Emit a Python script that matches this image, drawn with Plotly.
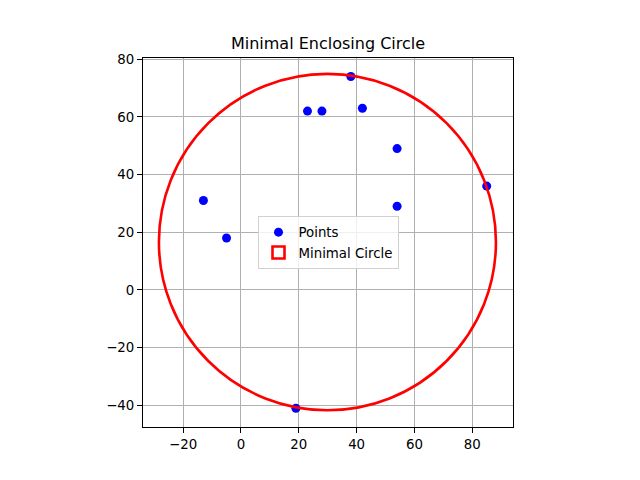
import plotly.graph_objects as go

# Data
point_x = [-13, -5, 23, 28, 38, 42, 54, 54, 85, 19]
point_y = [31, 18, 62, 62, 74, 63, 49, 29, 36, -41]
circle_center = (29.9, 16.6)
circle_radius = 58.3

x_range = [-33.9, 94.1]
y_range = [-47.5, 80.4]
x_ticks = [-20, 0, 20, 40, 60, 80]
y_ticks = [-40, -20, 0, 20, 40, 60, 80]

fig = go.Figure()
fig.add_trace(go.Scatter(
    x=point_x, y=point_y, mode="markers", name="Points",
    marker=dict(color="blue", size=9, line=dict(width=0)),
))
fig.add_shape(
    type="circle", xref="x", yref="y",
    x0=circle_center[0] - circle_radius, x1=circle_center[0] + circle_radius,
    y0=circle_center[1] - circle_radius, y1=circle_center[1] + circle_radius,
    line=dict(color="red", width=2.6), fillcolor="rgba(0,0,0,0)",
    showlegend=False, layer="above",
)
# legend proxy (rectangle patch icon), placed outside the visible range so it is clipped
fig.add_shape(
    type="rect", xref="x", yref="y",
    x0=x_range[1] + 100, x1=x_range[1] + 101, y0=y_range[1] + 100, y1=y_range[1] + 101,
    line=dict(color="red", width=2.6), fillcolor="rgba(0,0,0,0)",
    name="Minimal Circle", showlegend=True,
)

font = "DejaVu Sans"
axis_common = dict(
    showgrid=True, gridcolor="#b0b0b0", gridwidth=1,
    showline=True, linecolor="black", linewidth=1, mirror=True,
    ticks="outside", ticklen=5, tickcolor="black",
    zeroline=False,
    tickfont=dict(family=font, size=13.33, color="black"),
)

fig.update_layout(
    width=640, height=480,
    margin=dict(l=135, r=135, t=50, b=61),
    paper_bgcolor="white", plot_bgcolor="white",
    title=dict(text="Minimal Enclosing Circle", x=0.5, xanchor="center",
               y=1 - 35 / 480, yanchor="middle",
               font=dict(family=font, size=16, color="black")),
    xaxis=dict(range=x_range, tickvals=x_ticks,
               ticktext=[str(v).replace("-", "\u2212") for v in x_ticks], **axis_common),
    yaxis=dict(range=y_range, tickvals=y_ticks,
               ticktext=[str(v).replace("-", "\u2212") for v in y_ticks], **axis_common),
    legend=dict(x=0.5, y=0.5, xanchor="center", yanchor="middle", tracegroupgap=0,
                bgcolor="rgba(255,255,255,0.8)", bordercolor="#d0d0d0", borderwidth=1,
                font=dict(family=font, size=13.33, color="black")),
    showlegend=True,
)

fig.write_html("out.html")
